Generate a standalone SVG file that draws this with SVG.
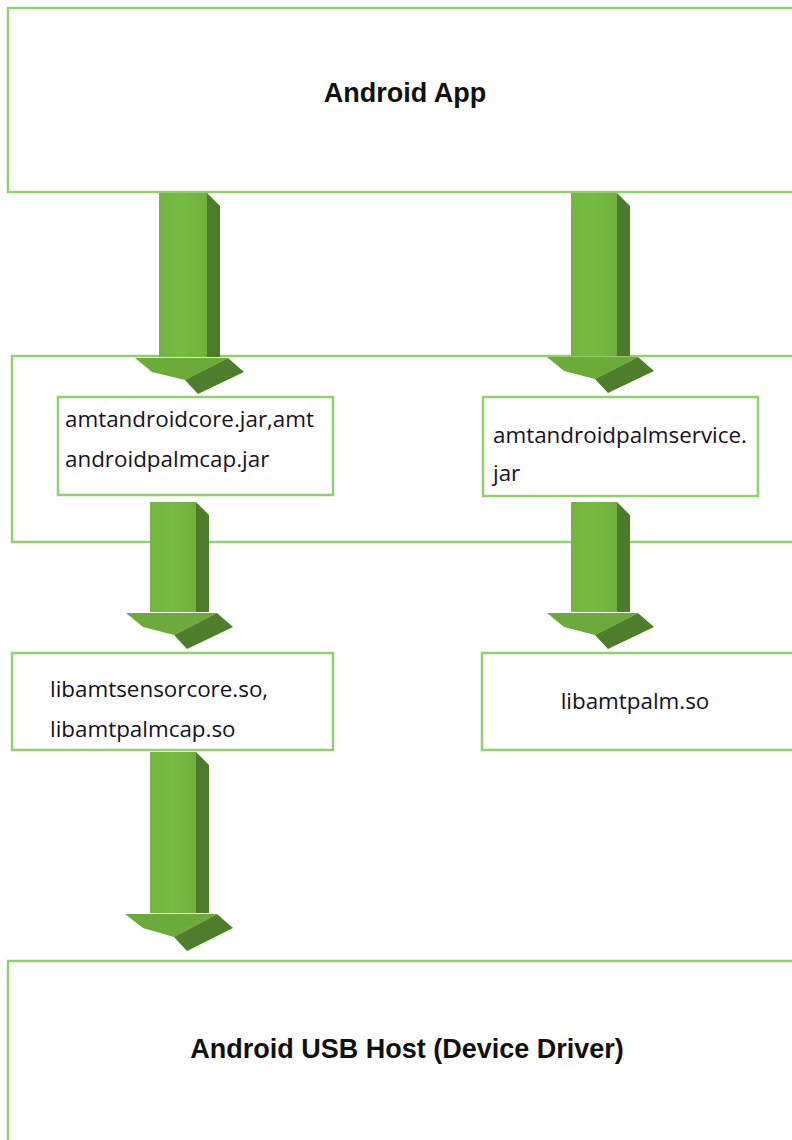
<svg xmlns="http://www.w3.org/2000/svg" width="792" height="1140" viewBox="0 0 792 1140">
<style>
.box{fill:#ffffff;stroke:#93cf6f;stroke-width:2.5}
.t{font-family:"Open Sans","Liberation Sans",sans-serif;font-size:22.4px;fill:#14121e}
.b{font-family:"Liberation Sans",Arial,sans-serif;font-size:27px;font-weight:bold;fill:#111111;text-anchor:middle}
.front{fill:url(#gf)}
.side{fill:#4c7b2b}
.hl{fill:#6aab3a}
.hd{fill:#4e7e2c}
</style>
<defs>
<linearGradient id="gf" x1="0" y1="0" x2="1" y2="0">
<stop offset="0" stop-color="#72b63f"/>
<stop offset="0.5" stop-color="#78bb43"/>
<stop offset="1" stop-color="#6eb03c"/>
</linearGradient>
</defs>
<rect width="792" height="1140" fill="#ffffff"/>
<g id="node-app">
<rect class="box" x="8" y="8" width="800" height="184"/>
<text class="b" x="405" y="102">Android App</text>
</g>
<g id="node-java-layer">
<rect class="box" x="12" y="356" width="800" height="186"/>
</g>
<g id="node-core-jar">
<rect class="box" x="58" y="397" width="275" height="98"/>
<text class="t" x="65" y="427">amtandroidcore.jar,amt</text>
<text class="t" x="65" y="467">androidpalmcap.jar</text>
</g>
<g id="node-palmservice-jar">
<rect class="box" x="483" y="397" width="275" height="99"/>
<text class="t" x="493" y="443">amtandroidpalmservice.</text>
<text class="t" x="493" y="481">jar</text>
</g>
<g id="node-core-so">
<rect class="box" x="12" y="653" width="321" height="97"/>
<text class="t" x="50" y="697">libamtsensorcore.so,</text>
<text class="t" x="50" y="737">libamtpalmcap.so</text>
</g>
<g id="node-palm-so">
<rect class="box" x="482" y="653" width="330" height="97"/>
<text class="t" x="635" y="709" text-anchor="middle">libamtpalm.so</text>
</g>
<g id="node-usb-host">
<rect class="box" x="8" y="961" width="800" height="200"/>
<text class="b" x="407" y="1058">Android USB Host (Device Driver)</text>
</g>
<g id="connectors">
<g id="arrow-app-core">
<rect class="front" x="159" y="193" width="48" height="164"/>
<polygon class="side" points="207,193 220,206 220,357 207,357"/>
<polygon class="hl" points="135,358 228,358 185,380 152,372"/>
<polygon class="hd" points="228,358 244,372 198,394 185,380"/>
</g>
<g id="arrow-app-service">
<rect class="front" x="571" y="193" width="46" height="163"/>
<polygon class="side" points="617,193 630,206 630,356 617,356"/>
<polygon class="hl" points="547,357 638,357 595,379 564,371"/>
<polygon class="hd" points="638,357 654,371 608,393 595,379"/>
</g>
<g id="arrow-jar-so-left">
<rect class="front" x="150" y="502" width="46" height="110"/>
<polygon class="side" points="196,502 209,515 209,612 196,612"/>
<polygon class="hl" points="126,613 217,613 174,635 143,627"/>
<polygon class="hd" points="217,613 233,627 187,649 174,635"/>
</g>
<g id="arrow-jar-so-right">
<rect class="front" x="571" y="502" width="46" height="110"/>
<polygon class="side" points="617,502 630,515 630,612 617,612"/>
<polygon class="hl" points="547,613 638,613 595,635 564,627"/>
<polygon class="hd" points="638,613 654,627 608,649 595,635"/>
</g>
<g id="arrow-so-usb">
<rect class="front" x="150" y="752" width="46" height="161"/>
<polygon class="side" points="196,752 209,765 209,913 196,913"/>
<polygon class="hl" points="125,914 217,914 174,937 143,928"/>
<polygon class="hd" points="217,914 233,928 187,951 174,937"/>
</g>
</g>
</svg>
